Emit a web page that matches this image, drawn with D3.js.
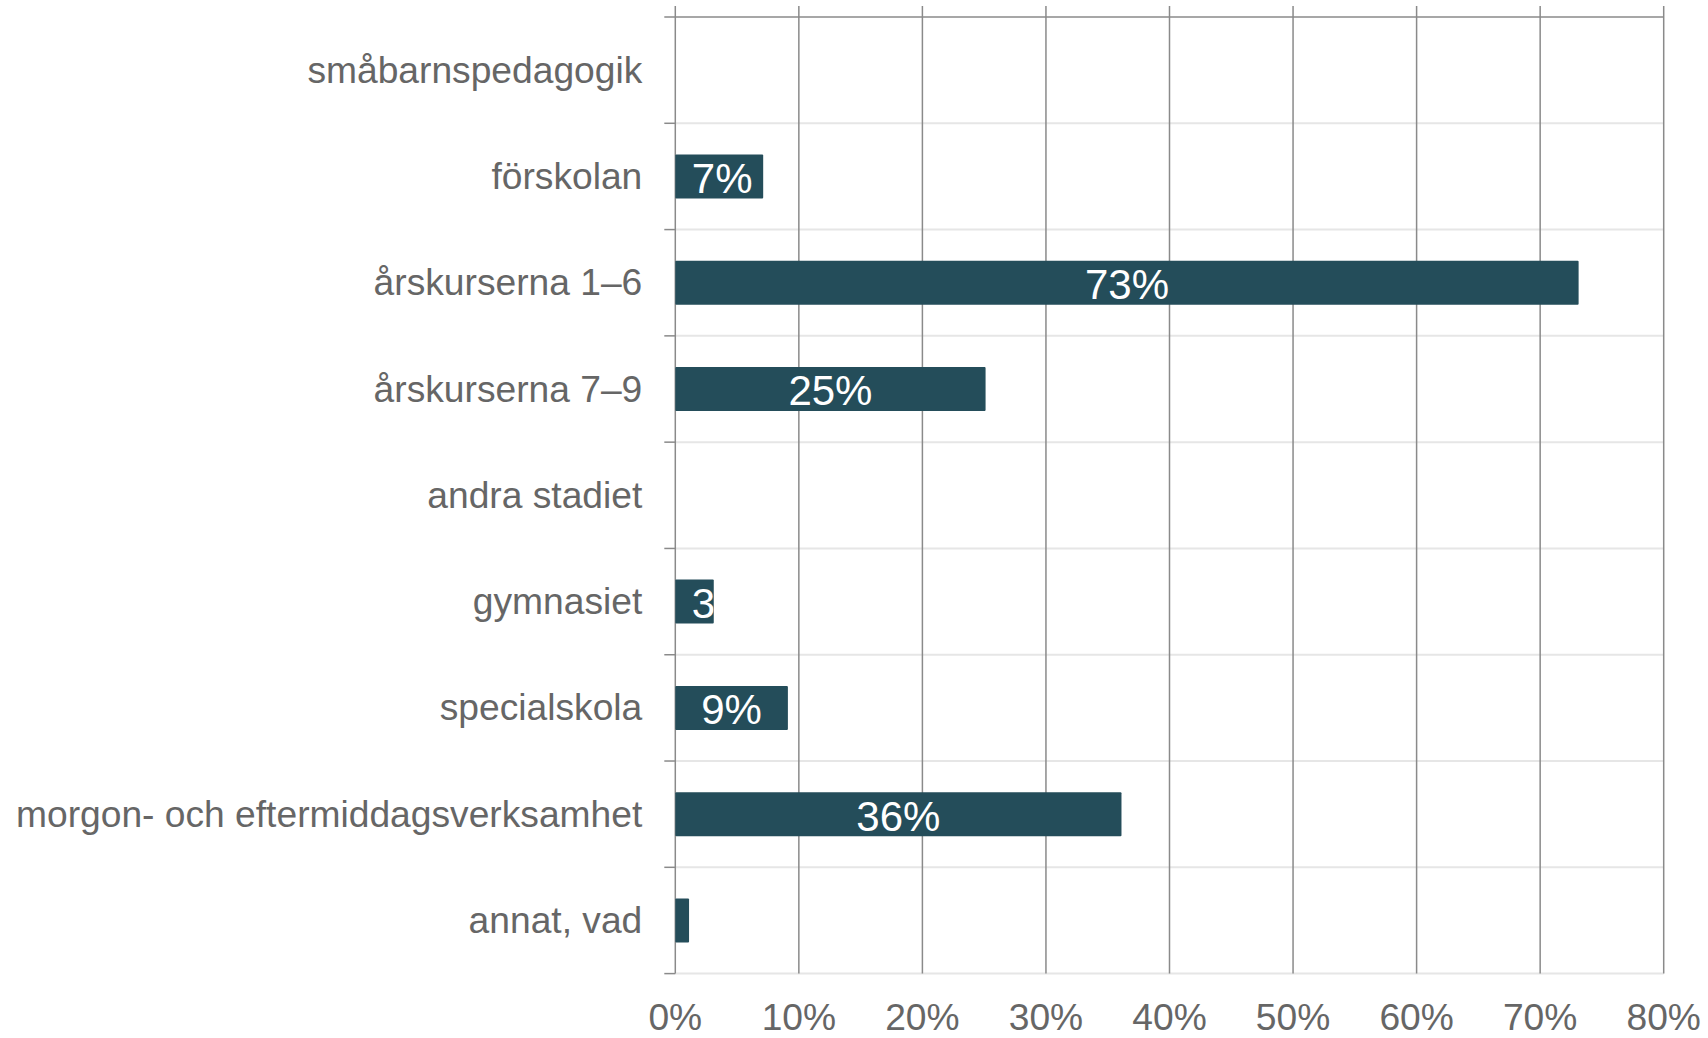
<!DOCTYPE html>
<html>
<head>
<meta charset="utf-8">
<script src="https://cdn.jsdelivr.net/npm/d3@7"></script>
<style>
  html, body { margin: 0; padding: 0; background: #ffffff; }
  svg { display: block; }
  text { font-family: "Liberation Sans", Arial, sans-serif; }
</style>
</head>
<body>
<svg id="chart" width="1708" height="1038"></svg>
<script>
// ---- data ----
const categories = [
  "småbarnspedagogik",
  "förskolan",
  "årskurserna 1–6",
  "årskurserna 7–9",
  "andra stadiet",
  "gymnasiet",
  "specialskola",
  "morgon- och eftermiddagsverksamhet",
  "annat, vad"
];
const values = [0, 7, 73, 25, 0, 3, 9, 36, 1];
const xTicks = [0, 10, 20, 30, 40, 50, 60, 70, 80];

// ---- layout ----
const plotLeft = 675.3, plotRight = 1663.7, plotTop = 17, plotBottom = 973.6;
const barColor = "#244d5a";
const gridDark = "#8a8a8a";
const gridLight = "#e6e6e6";
const textColor = "#666666";
const barExtra = 1.4;

const svg = d3.select("#chart");

const x = d3.scaleLinear().domain([0, 80]).range([plotLeft, plotRight]);
const y = d3.scaleBand().domain(categories).range([plotTop, plotBottom])
  .paddingInner(0.586).paddingOuter(0.293);
const step = y.step();

// horizontal light gridlines at row boundaries
const boundaries = d3.range(categories.length + 1).map(i => plotTop + i * step);
svg.append("g").selectAll("line").data(boundaries.slice(1)).join("line")
  .attr("x1", plotLeft).attr("x2", plotRight)
  .attr("y1", d => d).attr("y2", d => d)
  .attr("stroke", gridLight).attr("stroke-width", 2);

// vertical gridlines
svg.append("g").selectAll("line").data(xTicks).join("line")
  .attr("x1", d => x(d)).attr("x2", d => x(d))
  .attr("y1", 6).attr("y2", plotBottom)
  .attr("stroke", gridDark).attr("stroke-width", 1.5);

// top border line
svg.append("line")
  .attr("x1", plotLeft - 11).attr("x2", plotRight)
  .attr("y1", plotTop).attr("y2", plotTop)
  .attr("stroke", gridDark).attr("stroke-width", 1.5);

// left category tick marks
svg.append("g").selectAll("line").data(boundaries.slice(1)).join("line")
  .attr("x1", plotLeft - 11).attr("x2", plotLeft)
  .attr("y1", d => d).attr("y2", d => d)
  .attr("stroke", gridDark).attr("stroke-width", 1.5);

// bars with clipping for labels
const data = categories.map((c, i) => ({ c, v: values[i], i }));
const barW = d => d.v > 0 ? x(d.v) - x(0) + barExtra : 0;
const defs = svg.append("defs");
defs.selectAll("clipPath").data(data).join("clipPath")
  .attr("id", d => "clip" + d.i)
  .append("rect")
  .attr("x", x(0)).attr("y", d => y(d.c))
  .attr("width", barW).attr("height", y.bandwidth());

const barG = svg.append("g");
barG.selectAll("rect").data(data.filter(d => d.v > 0)).join("rect")
  .attr("x", x(0)).attr("y", d => y(d.c))
  .attr("width", barW).attr("height", y.bandwidth())
  .attr("rx", 1)
  .attr("fill", barColor);

// value labels (centered, pushed inside the plot, clipped by bar)
const labelSize = 42;
const lg = svg.append("g");
data.filter(d => d.v > 0).forEach(d => {
  const t = lg.append("text")
    .attr("clip-path", `url(#clip${d.i})`)
    .attr("font-size", labelSize)
    .attr("fill", "#ffffff")
    .attr("y", y(d.c) + y.bandwidth() / 2 + labelSize * 0.39)
    .text(d.v + "%");
  const w = t.node().getComputedTextLength();
  const cx = x(0) + barW(d) / 2;
  const sx = Math.max(cx - w / 2, x(0) + 16.5);
  t.attr("x", sx);
});

// category labels
const catSize = 37.2;
svg.append("g").selectAll("text").data(categories).join("text")
  .attr("x", plotLeft - 33)
  .attr("y", d => y(d) + y.bandwidth() / 2 + catSize * 0.31 + 1)
  .attr("text-anchor", "end")
  .attr("font-size", catSize)
  .attr("fill", textColor)
  .text(d => d);

// x tick labels
svg.append("g").selectAll("text").data(xTicks).join("text")
  .attr("x", d => x(d))
  .attr("y", plotBottom + 56.5)
  .attr("text-anchor", "middle")
  .attr("font-size", catSize)
  .attr("fill", textColor)
  .text(d => d + "%");
</script>
</body>
</html>
